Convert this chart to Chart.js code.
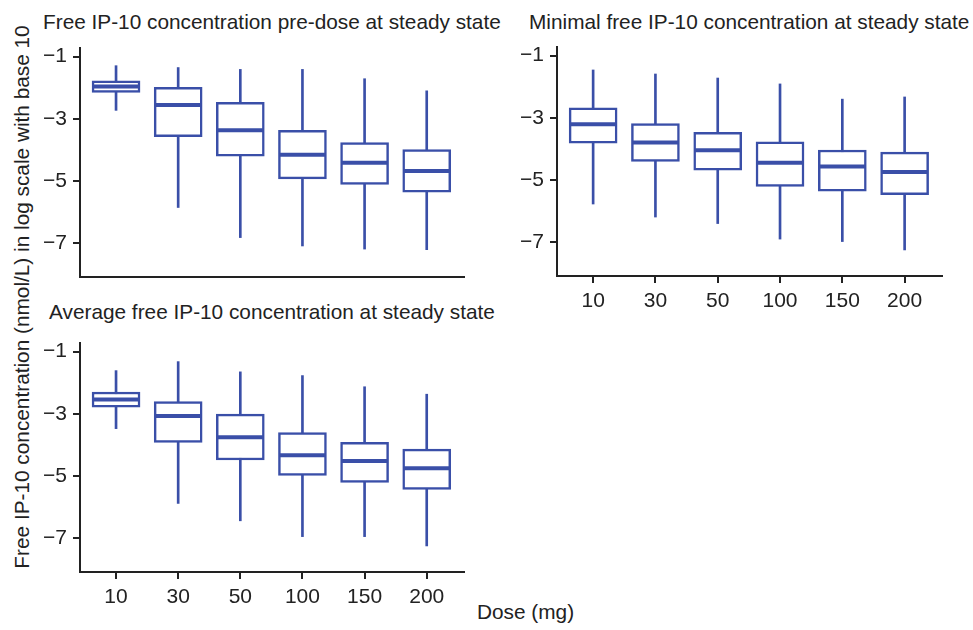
<!DOCTYPE html>
<html>
<head>
<meta charset="utf-8">
<script src="https://cdn.jsdelivr.net/npm/chart.js@4/dist/chart.umd.min.js"></script>
<style>
  html, body { margin: 0; padding: 0; background: #fff; }
  body { position: relative; width: 973px; height: 630px; overflow: hidden;
         font-family: "Liberation Sans", Arial, sans-serif; color: #222; }
  canvas { position: absolute; }
  .lbl { position: absolute; font-size: 20.8px; line-height: 21px; white-space: nowrap; }
  #ytitle { left: 21px; top: 297px; transform: translate(-50%, -50%) rotate(-90deg); }
</style>
</head>
<body>
<div class="lbl" style="left:43px; top:11px">Free IP-10 concentration pre-dose at steady state</div>
<div class="lbl" style="left:529px; top:11px">Minimal free IP-10 concentration at steady state</div>
<div class="lbl" style="left:49px; top:301px">Average free IP-10 concentration at steady state</div>
<div class="lbl" id="ytitle">Free IP-10 concentration (nmol/L) in log scale with base 10</div>
<div class="lbl" style="left:477px; top:601px">Dose (mg)</div>

<canvas id="c1" width="480" height="245" style="left:0; top:40px"></canvas>
<canvas id="c2" width="493" height="280" style="left:480px; top:40px"></canvas>
<canvas id="c3" width="480" height="280" style="left:0; top:330px"></canvas>

<script>
// dose groups (mg) and log10 tick values
const doses  = ['10', '30', '50', '100', '150', '200']
const yTicks = [-1, -3, -5, -7]

// pre-dose (trough) at steady state
const preLo  = [-2.73, -5.86, -6.83, -7.10, -7.20, -7.22]
const preQ1  = [-2.15, -3.58, -4.21, -4.94, -5.12, -5.37]
const preMed = [-1.96, -2.56, -3.37, -4.16, -4.42, -4.68]
const preQ3  = [-1.78, -1.99, -2.47, -3.37, -3.77, -3.99]
const preHi  = [-1.29, -1.35, -1.41, -1.41, -1.71, -2.10]

// minimal free IP-10
const minLo  = [-5.78, -6.20, -6.41, -6.91, -6.99, -7.26]
const minQ1  = [-3.82, -4.41, -4.69, -5.21, -5.37, -5.48]
const minMed = [-3.21, -3.80, -4.05, -4.45, -4.57, -4.75]
const minQ3  = [-2.68, -3.19, -3.47, -3.78, -4.04, -4.11]
const minHi  = [-1.46, -1.59, -1.72, -1.91, -2.40, -2.33]

// average free IP-10
const avgLo  = [-3.48, -5.89, -6.45, -6.96, -6.96, -7.26]
const avgQ1  = [-2.79, -3.92, -4.49, -4.99, -5.21, -5.44]
const avgMed = [-2.54, -3.07, -3.76, -4.34, -4.52, -4.76]
const avgQ3  = [-2.30, -2.61, -3.01, -3.61, -3.92, -4.14]
const avgHi  = [-1.61, -1.32, -1.65, -1.77, -2.13, -2.37]

const BLUE = '#3a4fa8'
const INK  = '#222'

Chart.defaults.font.family = '"Liberation Sans", Arial, sans-serif'
Chart.defaults.font.size = 21
Chart.defaults.color = INK

function boxChart (id, lo, q1, med, q3, hi, o) {
  return new Chart(document.getElementById(id), {
    type: 'bar',
    data: {
      datasets: [
        { // whiskers: thin bar from min to max, sits behind the box
          data: lo.map((v, i) => ({ x: i, y: [v, hi[i]] })),
          backgroundColor: BLUE, borderWidth: 0,
          barThickness: 2, grouped: false, order: 2
        },
        { // interquartile box
          data: q1.map((v, i) => ({ x: i, y: [v, q3[i]] })),
          backgroundColor: '#fff', borderColor: BLUE, borderWidth: 2.5,
          borderSkipped: false, barThickness: 48, grouped: false, order: 1
        },
        { // median tick
          type: 'line',
          data: med.map((v, i) => ({ x: i, y: v })),
          showLine: false, pointStyle: 'line', pointRadius: 23, pointHoverRadius: 23,
          pointBorderColor: BLUE, pointBorderWidth: 4, order: 0
        }
      ]
    },
    options: {
      responsive: false,
      devicePixelRatio: 1,
      animation: false,
      events: [],
      layout: { autoPadding: false, padding: { top: o.top, right: o.right, left: 0, bottom: 0 } },
      plugins: { legend: { display: false }, tooltip: { enabled: false } },
      scales: {
        x: {
          type: 'linear', min: -0.58, max: 5.6, offset: false,
          afterBuildTicks: s => { s.ticks = doses.map((d, i) => ({ value: i })) },
          afterFit: s => { s.height = o.xh; s.paddingLeft = 0; s.paddingRight = 0 },
          ticks: { display: o.xlabels, padding: 6, callback: v => doses[v] },
          grid: { display: o.xlabels, offset: false, drawOnChartArea: false, tickLength: 7, color: INK, lineWidth: 2 },
          border: { color: INK, width: 2 }
        },
        y: {
          type: 'linear', min: -8.1, max: -0.72,
          afterBuildTicks: s => { s.ticks = yTicks.map(v => ({ value: v })) },
          afterFit: s => { s.width = o.yw; s.paddingTop = 0; s.paddingBottom = 0 },
          ticks: { padding: 6, callback: v => '\u2212' + Math.abs(v) },
          grid: { drawOnChartArea: false, tickLength: 7, color: INK, lineWidth: 2 },
          border: { color: INK, width: 2 }
        }
      }
    }
  })
}

boxChart('c1', preLo, preQ1, preMed, preQ3, preHi, { top: 8, right: 16, xh: 8,  yw: 80, xlabels: false })
boxChart('c2', minLo, minQ1, minMed, minQ3, minHi, { top: 7, right: 31, xh: 44, yw: 77, xlabels: true })
boxChart('c3', avgLo, avgQ1, avgMed, avgQ3, avgHi, { top: 13, right: 16, xh: 38, yw: 80, xlabels: true })
</script>
</body>
</html>
